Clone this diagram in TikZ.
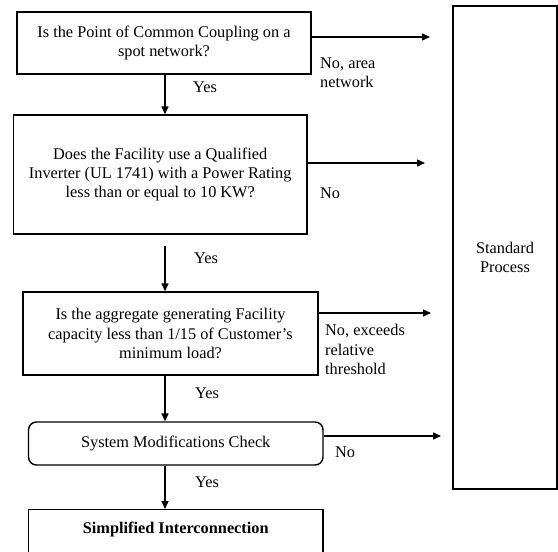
\documentclass[tikz,border=0pt]{standalone}
\usepackage{fontspec}
\setmainfont{Liberation Serif}
\usetikzlibrary{arrows.meta}
\newcommand{\dfont}{\fontsize{16.3}{19.3}\selectfont}
\begin{document}
\begin{tikzpicture}[x=1pt,y=-1pt,
  box/.style={draw, line width=1.4pt, align=center, inner sep=0pt, font=\dfont},
  lbl/.style={anchor=west, align=left, inner sep=0pt, font=\dfont},
  arr/.style={line width=1.4pt, -{Triangle[length=8pt,width=7pt]}}]
\clip (0,0) rectangle (558,552);
\fill[white] (0,0) rectangle (558,552);
% boxes
\node[box, minimum width=294pt, minimum height=62pt] (b1) at (164,43)
  {Is the Point of Common Coupling on a\\spot network?};
\node[box, minimum width=293.5pt, minimum height=119pt] (b2) at (160.25,174.5)
  {Does the Facility use a Qualified\\Inverter (UL 1741) with a Power Rating\\less than or equal to 10 KW?};
\node[box, minimum width=295pt, minimum height=83pt] (b3) at (170.5,333.5)
  {Is the aggregate generating Facility\\capacity less than 1/15 of Customer's\\minimum load?};
\node[box, rounded corners=8pt, minimum width=294.5pt, minimum height=43pt] (b4) at (175.75,443.5)
  {System Modifications Check};
\node[box, anchor=north, minimum width=294.5pt, inner ysep=13pt, text height=11pt, text depth=40pt,
  font=\dfont\bfseries] (b5) at (175.75,509) {Simplified Interconnection};
\node[box, minimum width=104pt, minimum height=483pt] (sp) at (505,247.5) {};
\node[lbl, anchor=center, align=center] (spt) at (505,257.5) {Standard\\Process};
% arrow end points
\coordinate (t1) at (430,37);
\coordinate (t2) at (425,163);
\coordinate (t3) at (431,313);
\coordinate (t4) at (441,436);
\coordinate (sx) at (165,0);
\draw[arr] (b1.east |- t1) -- (t1);
\draw[arr] (b2.east |- t2) -- (t2);
\draw[arr] (b3.east |- t3) -- (t3);
\draw[arr] (b4.east |- t4) -- (t4);
\draw[arr] (b1.south -| sx) -- (b2.north -| sx);
\draw[arr, shorten <=11pt] (b2.south -| sx) -- (b3.north -| sx);
\draw[arr] (b3.south -| sx) -- (b4.north -| sx);
\draw[arr] (b4.south -| sx) -- (b5.north -| sx);
% labels
\node[lbl] (l1) at (320,72.5) {No, area\\network};
\node[lbl] (y1) at (193,87) {Yes};
\node[lbl] (l2) at (320,193) {No};
\node[lbl] (y2) at (194,258) {Yes};
\node[lbl] (l3) at (325,349.5) {No, exceeds\\relative\\threshold};
\node[lbl] (y3) at (195,393) {Yes};
\node[lbl] (l4) at (335,452) {No};
\node[lbl] (y4) at (195,482) {Yes};
\end{tikzpicture}
\end{document}
